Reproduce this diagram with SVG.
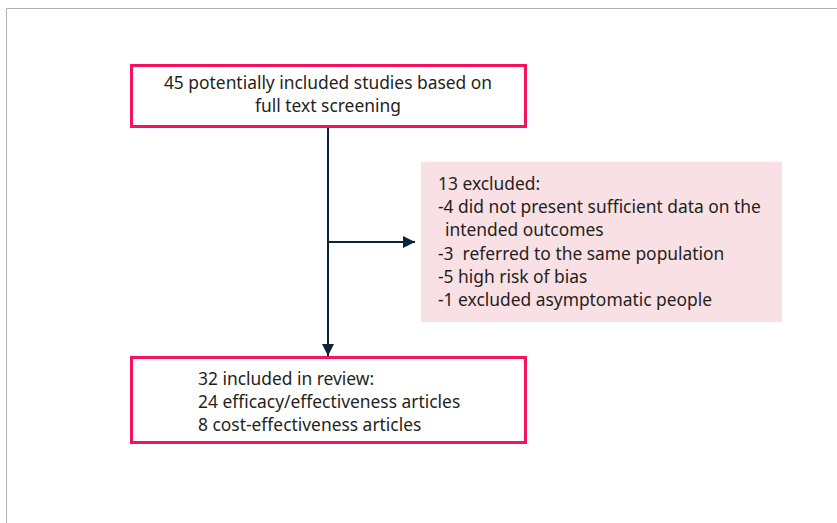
<svg xmlns="http://www.w3.org/2000/svg" width="837" height="523" viewBox="0 0 837 523">
<defs>
<style>
.box{fill:#ffffff;stroke:#f5135f;stroke-width:3}
.ex{fill:#f9e0e4;stroke:none}
.t{font-family:"Source Sans Pro","Noto Sans","Liberation Sans",sans-serif;font-size:17.4px;fill:#231f20}
.c{stroke:#0d2438;stroke-width:2;fill:none}
</style>
<marker id="ah2" viewBox="0 0 10 10" refX="10" refY="5" markerWidth="12" markerHeight="12" markerUnits="userSpaceOnUse" orient="auto"><path d="M0,0 L10,5 L0,10 z" fill="#0d2438"/></marker>
</defs>
<rect x="0" y="0" width="837" height="523" fill="#ffffff"/>
<path d="M6.5,523 V8.5 H837" fill="none" stroke="#b0b0b0" stroke-width="1"/>
<g id="connectors">
<line class="c" x1="328" y1="127" x2="328" y2="356" marker-end="url(#ah2)"/>
<line class="c" x1="328" y1="242" x2="415" y2="242" marker-end="url(#ah2)"/>
</g>
<g id="n1">
<rect class="box" x="131.5" y="65.5" width="394" height="61"/>
<text class="t" x="328" y="89" text-anchor="middle">45 potentially included studies based on</text>
<text class="t" x="328" y="112" text-anchor="middle">full text screening</text>
</g>
<g id="n2">
<rect class="ex" x="421" y="162" width="361" height="160"/>
<text class="t" x="438" y="190">13 excluded:</text>
<text class="t" x="438" y="213">-4 did not present sufficient data on the</text>
<text class="t" x="445" y="236">intended outcomes</text>
<text class="t" x="438" y="260" xml:space="preserve">-3  referred to the same population</text>
<text class="t" x="438" y="283">-5 high risk of bias</text>
<text class="t" x="438" y="306">-1 excluded asymptomatic people</text>
</g>
<g id="n3">
<rect class="box" x="131.5" y="357.5" width="394" height="85"/>
<text class="t" x="198" y="385">32 included in review:</text>
<text class="t" x="198" y="408">24 efficacy/effectiveness articles</text>
<text class="t" x="198" y="431">8 cost-effectiveness articles</text>
</g>
</svg>
